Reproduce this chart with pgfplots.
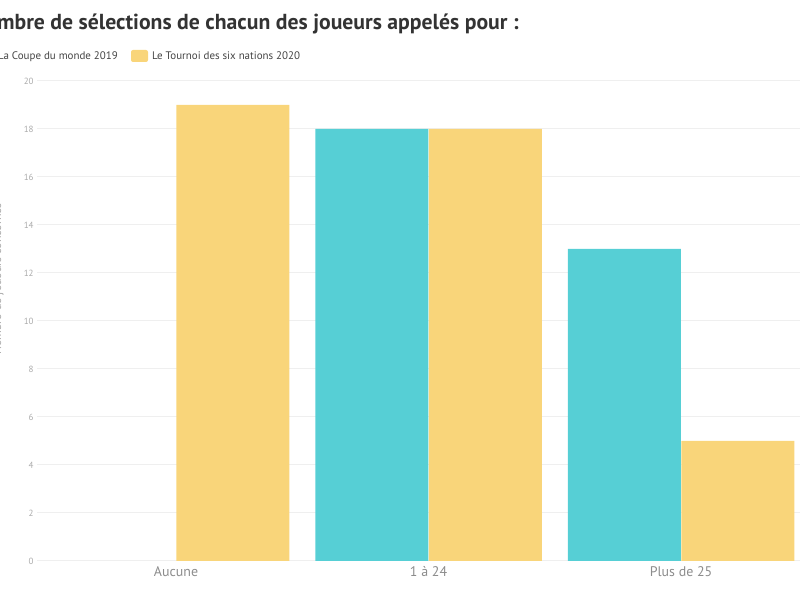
\documentclass[border=0pt]{standalone}
\usepackage{pgfplots}
\pgfplotsset{compat=1.18}
\usepackage{fontspec}
\setmainfont{PT Sans}
\usetikzlibrary{calc}

\definecolor{cyanbar}{HTML}{56CFD5}
\definecolor{yellowbar}{HTML}{F9D57A}
\definecolor{titlegray}{HTML}{333333}
\definecolor{tickgray}{HTML}{AAAAAA}
\definecolor{catgray}{HTML}{8C8C8C}
\definecolor{legendgray}{HTML}{444444}
\definecolor{gridgray}{HTML}{EFEFEF}

\newcommand\titlefont{\fontsize{21.8}{26}\selectfont\bfseries}
\newlength\nowidth

\begin{document}%
\settowidth\nowidth{\titlefont No}%
\begin{tikzpicture}[x=1bp,y=1bp]
\begin{axis}[
  at={(37.1bp,39bp)}, anchor=south west,
  scale only axis, width=782.9bp, height=480bp,
  xmin=-0.55, xmax=2.55, ymin=0, ymax=20,
  axis line style={draw=none},
  major tick length=0pt,
  ymajorgrids, grid style={draw=gridgray, line width=1bp},
  ytick={0,2,...,20},
  xtick={0,1,2},
  xticklabels={Aucune, 1 à 24, Plus de 25},
  /pgf/number format/assume math mode=true,
  yticklabel style={font=\fontsize{9}{10}\selectfont, text=tickgray},
  xticklabel style={font=\fontsize{14}{16}\selectfont, text=catgray, yshift=-2bp},
  clip=false,
]
% Coupe du monde 2019 (Aucune = 0, so no bar is drawn there)
\addplot[ybar, bar width=113bp, bar shift=-56.75bp, fill=cyanbar, draw=none]
  coordinates {(1,18) (2,13)};
% Tournoi des six nations 2020
\addplot[ybar, bar width=113bp, bar shift=56.75bp, fill=yellowbar, draw=none]
  coordinates {(0,19) (1,18) (2,5)};
\end{axis}

% y label, mostly cut off by the page edge
\node[rotate=90, anchor=base, inner sep=0, text=tickgray,
  font=\fontsize{12}{14}\selectfont] at (1,321) {Nombre de joueurs concernés};

% title, starts left of the page
\node[anchor=base west, inner sep=0, xshift=-\nowidth, text=titlegray,
  font=\titlefont] at (-3,570) {Nombre de sélections de chacun des joueurs appelés pour :};

% legend
\node (lg1) [anchor=base east, inner sep=0, text=legendgray,
  font=\fontsize{11}{13}\selectfont] at (118,540) {La Coupe du monde 2019};
\fill[cyanbar, rounded corners=2bp] ($(lg1.base west)+(-21,-2)$) rectangle ++(17,12);
\fill[yellowbar, rounded corners=2bp] (131,538) rectangle (148,550);
\node[anchor=base west, inner sep=0, text=legendgray,
  font=\fontsize{11}{13}\selectfont] at (152,540) {Le Tournoi des six nations 2020};

\pgfresetboundingbox
\useasboundingbox (0,0) rectangle (800,600);
\end{tikzpicture}%
\end{document}
